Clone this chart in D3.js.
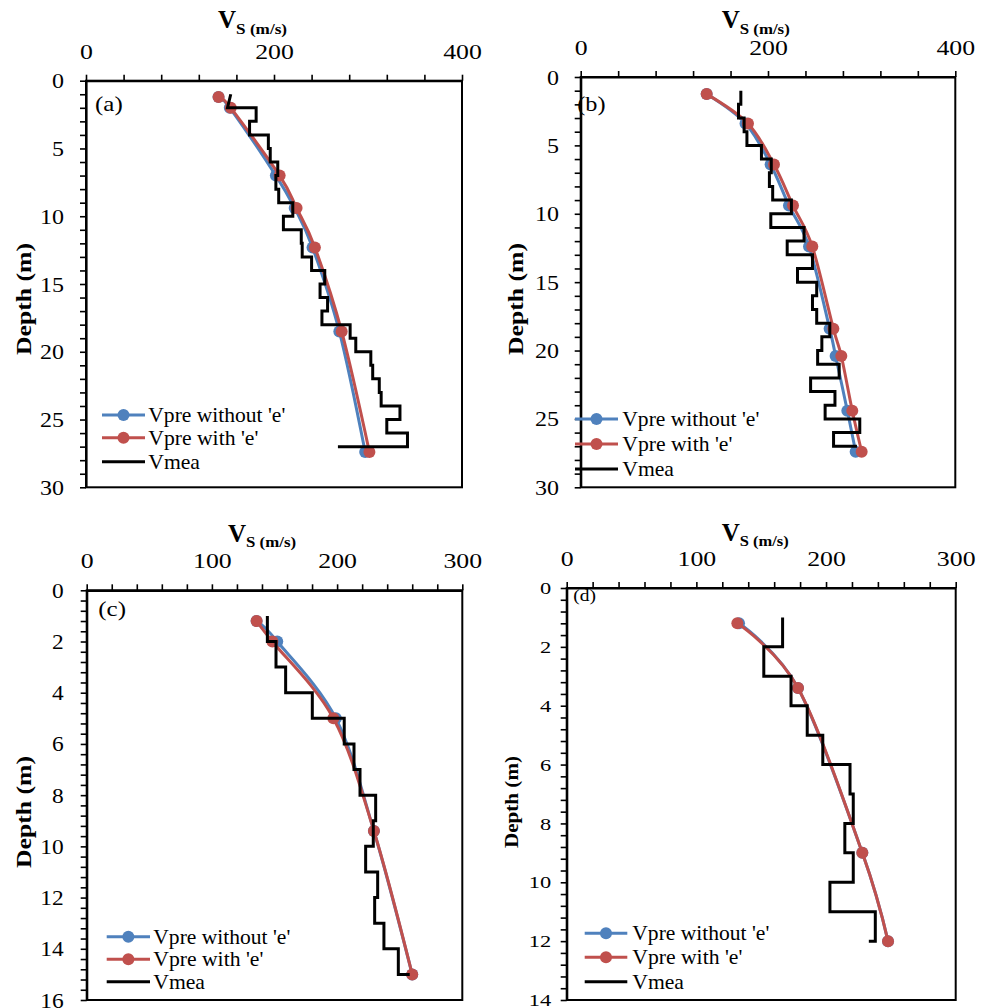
<!DOCTYPE html>
<html>
<head>
<meta charset="utf-8">
<script src="https://cdn.jsdelivr.net/npm/d3@7"></script>
<style>
  body { margin: 0; background: #fff; }
  svg, svg text { font-family: "Liberation Serif", "Times New Roman", serif; }
  svg { display: block; }
  .tick line { stroke: #000; stroke-width: 1.6px; }
  .domain { stroke: #000; stroke-width: 2.2px; }
</style>
</head>
<body>
<svg id="chart" width="988" height="1008"></svg>
<script>
// ---- data ----
// (a)
const depthPreA = [1.2, 2, 7, 9.4, 12.3, 18.5, 27.4];
const vWithoutA = [141, 153, 202, 222, 241, 269.5, 297];
const vWithA    = [141, 154, 206, 224, 243.5, 272, 301.5];
const layerA = d3.range(1, 28);           // layer boundaries (m)
const vMeaA = [150.5, 181, 174, 194, 196, 204, 202, 205, 220, 210, 229, 230, 240,
               254, 249, 257, 251, 281, 287, 303, 305, 312, 314, 334, 320, 342];
const vMeaStartA = 154, vMeaEndA = 268;

// (b)
const depthPreB = [1.25, 3.4, 6.4, 9.4, 12.4, 18.4, 20.4, 24.4, 27.4];
const vWithoutB = [134.5, 176, 202.8, 222.4, 243.8, 265.8, 272.2, 284.7, 293.6];
const vWithB    = [134.5, 178.6, 206.4, 226.7, 247.3, 269.8, 278.3, 290, 300];
const layerB = d3.range(1, 28);
const vMeaB = [171, 168.5, 174.5, 177.5, 193, 203.5, 201.5, 205, 225, 203, 238.5, 220.5, 247.5,
               231.5, 252, 247.5, 252, 266, 257.5, 253, 276, 245.5, 271.5, 261, 298, 270];
const vMeaStartB = 171, vMeaEndB = 295;

// (c)
const depthPreC = [1.2, 2, 5, 9.4, 15];
const vWithoutC = [135.7, 152.2, 199, 229.4, 260];
const vWithC    = [135.7, 148.3, 197, 229.4, 260];
const layerC = d3.range(1, 16);
const vMeaC = [144.3, 151.2, 158.9, 180.2, 205.7, 213.5, 218.3, 230.8, 228.9, 222.8, 232.4, 230, 237.4, 248.9];
const vMeaStartC = 144.3, vMeaEndC = 258;

// (d)
const depthPreD = [1.2, 3.4, 9, 12];
const vWithoutD = [132.9, 178.4, 228, 247.8];
const vWithD    = [131.6, 178.4, 228, 247.8];
const layerD = d3.range(1, 13);
const vMeaD = [166.5, 152, 173, 185.5, 197.5, 218.5, 221, 214.5, 221, 203, 238];
const vMeaStartD = 166.5, vMeaEndD = 233;

const legendNames = ["Vpre without 'e'", "Vpre with 'e'", "Vmea"];
const legendWidths = [137, 110, 51.7];
const colBlue = "#4f81bd", colRed = "#c0504d";
const serif = "'Liberation Serif', 'Times New Roman', serif";

// ---- panel layout ----
const panels = [
  { label: "(a)", pre: depthPreA, wo: vWithoutA, wi: vWithA, layers: layerA, mea: vMeaA, ms: vMeaStartA, me: vMeaEndA,
    xMax: 400, xStep: 40, xLab: 200, yMax: 30, yStep: 1, yLab: 5,
    l: 86, t: 80.7, r: 462, b: 487.3, yPad: 16, yFont: 22, yDigit: 12,
    title: { x: 218, y: 28.3, sub: 51 }, ytitle: { x: 23.5, y: 299, len: 112, font: 22 },
    tag: { x: 95, y: 111, len: 27.7, font: 21 },
    leg: { x0: 102, x1: 145, tx: 148.3, rows: [415, 437.7, 461.7] } },
  { label: "(b)", pre: depthPreB, wo: vWithoutB, wi: vWithB, layers: layerB, mea: vMeaB, ms: vMeaStartB, me: vMeaEndB,
    xMax: 400, xStep: 40, xLab: 200, yMax: 30, yStep: 1, yLab: 5,
    l: 580.7, t: 77, r: 955.3, b: 487.3, yPad: 15.7, yFont: 22, yDigit: 12,
    title: { x: 721.7, y: 28.3, sub: 50 }, ytitle: { x: 515.7, y: 299, len: 112, font: 22 },
    tag: { x: 577.3, y: 111, len: 28.3, font: 21 },
    leg: { x0: 575, x1: 618, tx: 622.3, rows: [419, 444, 469] } },
  { label: "(c)", pre: depthPreC, wo: vWithoutC, wi: vWithC, layers: layerC, mea: vMeaC, ms: vMeaStartC, me: vMeaEndC,
    xMax: 300, xStep: 20, xLab: 100, yMax: 16, yStep: 0.4, yLab: 2,
    l: 86.7, t: 590.3, r: 462.3, b: 1000, yPad: 17, yFont: 22, yDigit: 11.7,
    title: { x: 228, y: 541.7, sub: 50 }, ytitle: { x: 23.5, y: 812, len: 112, font: 22 },
    tag: { x: 98.3, y: 615.5, len: 27.7, font: 21 },
    leg: { x0: 106.7, x1: 150, tx: 153.3, rows: [936.7, 959.3, 981.7] } },
  { label: "(d)", pre: depthPreD, wo: vWithoutD, wi: vWithD, layers: layerD, mea: vMeaD, ms: vMeaStartD, me: vMeaEndD,
    xMax: 300, xStep: 20, xLab: 100, yMax: 14, yStep: 0.4, yLab: 2,
    l: 566.7, t: 588, r: 955.7, b: 1000, yPad: 9.5, yFont: 17.5, yDigit: 11.2,
    title: { x: 721.7, y: 541, sub: 49 }, ytitle: { x: 512.3, y: 802, len: 92, font: 18 },
    tag: { x: 573.3, y: 601, len: 22.7, font: 17 },
    leg: { x0: 584.7, x1: 627.3, tx: 632.3, rows: [933.3, 957.3, 981.7] } }
];

const svg = d3.select("#chart");

// step outline of the measured profile
function stepPoints(bounds, vals, startV, endV) {
  const pts = [[startV, bounds[0]]];
  vals.forEach((v, i) => {
    if (i > 0) pts.push([v, bounds[i]]);
    pts.push([v, bounds[i + 1]]);
  });
  pts.push([endV, bounds[bounds.length - 1]]);
  return pts;
}

function isLabel(d, step) {
  return Math.abs(d / step - Math.round(d / step)) < 1e-6;
}

panels.forEach(p => {
  const g = svg.append("g").attr("font-family", serif);
  const x = d3.scaleLinear().domain([0, p.xMax]).range([p.l, p.r]);
  const y = d3.scaleLinear().domain([0, p.yMax]).range([p.t, p.b]);

  // plot frame
  g.append("rect")
    .attr("x", p.l).attr("y", p.t)
    .attr("width", p.r - p.l).attr("height", p.b - p.t)
    .attr("fill", "none").attr("stroke", "#000").attr("stroke-width", 2);

  // top axis
  const xTicks = d3.range(0, p.xMax / p.xStep + 1).map(i => i * p.xStep);
  const xa = g.append("g").attr("transform", `translate(0,${p.t})`)
    .call(d3.axisTop(x).tickValues(xTicks).tickSize(6).tickSizeOuter(0).tickPadding(16)
      .tickFormat(d => isLabel(d, p.xLab) ? d : ""));
  xa.attr("font-family", serif).attr("font-size", 22);
  xa.selectAll("text")
    .attr("fill", "#000")
    .filter(d => isLabel(d, p.xLab))
    .attr("textLength", d => String(d).length * 12.9).attr("lengthAdjust", "spacingAndGlyphs");

  // left axis
  const yTicks = d3.range(0, Math.round(p.yMax / p.yStep) + 1).map(i => +(i * p.yStep).toFixed(2));
  const ya = g.append("g").attr("transform", `translate(${p.l},0)`)
    .call(d3.axisLeft(y).tickValues(yTicks).tickSize(6).tickSizeOuter(0).tickPadding(p.yPad)
      .tickFormat(d => isLabel(d, p.yLab) ? d : ""));
  ya.attr("font-family", serif).attr("font-size", p.yFont);
  ya.selectAll("text")
    .attr("fill", "#000")
    .filter(d => isLabel(d, p.yLab))
    .attr("textLength", d => String(d).length * p.yDigit).attr("lengthAdjust", "spacingAndGlyphs");

  // axis titles
  const tt = g.append("text").attr("x", p.title.x).attr("y", p.title.y)
    .attr("font-weight", "bold").attr("font-size", 25);
  tt.append("tspan").text("V");
  tt.append("tspan").attr("dy", 5.2).attr("font-size", 14)
    .attr("textLength", p.title.sub).attr("lengthAdjust", "spacingAndGlyphs").text("S (m/s)");

  g.append("text")
    .attr("transform", `translate(${p.ytitle.x + p.ytitle.font * 0.33},${p.ytitle.y}) rotate(-90)`)
    .attr("text-anchor", "middle").attr("font-weight", "bold").attr("font-size", p.ytitle.font)
    .attr("textLength", p.ytitle.len).attr("lengthAdjust", "spacingAndGlyphs")
    .text("Depth (m)");

  g.append("text").attr("x", p.tag.x).attr("y", p.tag.y)
    .attr("font-size", p.tag.font)
    .attr("textLength", p.tag.len).attr("lengthAdjust", "spacingAndGlyphs")
    .text(p.label);

  // predicted profiles
  const curve = d3.line().curve(d3.curveCatmullRom.alpha(0))
    .x(d => x(d[0])).y(d => y(d[1]));
  [[p.wo, colBlue], [p.wi, colRed]].forEach(([vals, col]) => {
    const pts = vals.map((v, i) => [v, p.pre[i]]);
    g.append("path").attr("d", curve(pts))
      .attr("fill", "none").attr("stroke", col).attr("stroke-width", 3);
    g.selectAll(null).data(pts).join("circle")
      .attr("cx", d => x(d[0])).attr("cy", d => y(d[1])).attr("r", 6)
      .attr("fill", col);
  });

  // measured step profile
  const stepLine = d3.line().x(d => x(d[0])).y(d => y(d[1]));
  g.append("path").attr("d", stepLine(stepPoints(p.layers, p.mea, p.ms, p.me)))
    .attr("fill", "none").attr("stroke", "#000").attr("stroke-width", 3)
    .attr("stroke-linejoin", "miter");

  // legend
  const cols = [colBlue, colRed, "#000"];
  legendNames.forEach((name, i) => {
    const ry = p.leg.rows[i];
    g.append("line").attr("x1", p.leg.x0).attr("x2", p.leg.x1).attr("y1", ry).attr("y2", ry)
      .attr("stroke", cols[i]).attr("stroke-width", 3);
    if (i < 2) g.append("circle").attr("cx", (p.leg.x0 + p.leg.x1) / 2).attr("cy", ry)
      .attr("r", 6).attr("fill", cols[i]);
    g.append("text").attr("x", p.leg.tx).attr("y", ry + 7)
      .attr("font-size", 21)
      .attr("textLength", legendWidths[i]).attr("lengthAdjust", "spacingAndGlyphs")
      .text(name);
  });
});
</script>
</body>
</html>
